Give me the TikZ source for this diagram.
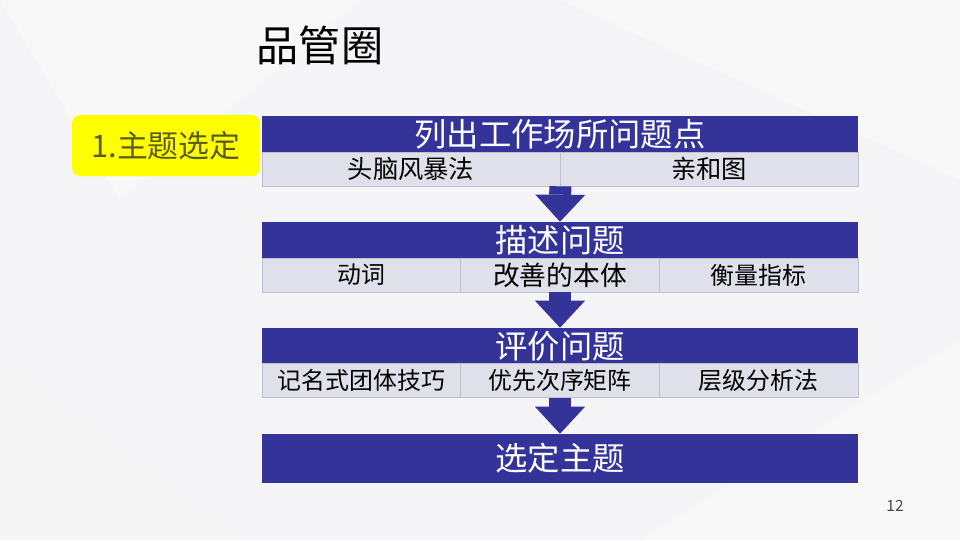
\documentclass[tikz,border=0pt]{standalone}
\usepackage{fontspec}
\setmainfont{Noto Sans CJK SC}
\usepackage{xcolor}
\definecolor{navy}{RGB}{51,51,153}
\definecolor{cellgray}{RGB}{223,224,233}
\definecolor{cellline}{RGB}{192,192,202}
\definecolor{hiyellow}{RGB}{255,255,0}
\definecolor{olive}{RGB}{92,92,22}
\definecolor{bgcol}{RGB}{245,245,247}
\definecolor{pagegray}{RGB}{70,70,70}
\usepackage{tikz}
\usetikzlibrary{
    arrows.meta,
    positioning,
    calc
}

\begin{document}
\begin{tikzpicture}[
        head/.style={rectangle, fill=navy, text=white, minimum width=14.9cm, minimum height=0.9cm, inner sep=0pt, font=\fontsize{23}{23}\selectfont},
        cell/.style={rectangle, draw=cellline, fill=cellgray, minimum width=#1, minimum height=0.85cm, inner sep=0pt, font=\fontsize{17}{17}\selectfont},
        tag/.style={rectangle, rounded corners=0.2cm, fill=hiyellow, text=olive, minimum width=4.7cm, minimum height=1.525cm, font=\fontsize{22}{22}\selectfont},
        flow/.style={-{Triangle[width=1.25cm,length=0.675cm,line width=0pt]}, line width=0.55cm, navy}
    ]
        % background
        \fill[bgcol] (0,0) rectangle (24,13.5);
        \fill[white, opacity=0.35] (0,13.5) -- (9,13.5) -- (3,8.5) -- cycle;
        \fill[white, opacity=0.35] (14,13.5) -- (24,13.5) -- (24,9) -- cycle;
        \fill[black!4, opacity=0.3] (0,0) -- (6,0) -- (0,4.5) -- cycle;
        \fill[white, opacity=0.35] (16,0) -- (24,0) -- (24,5) -- cycle;
        \useasboundingbox (0,0) rectangle (24,13.5);

        \node[font=\fontsize{30}{30}\selectfont] (title) at (8.0,12.375) {品管圈};
        \node[tag] (step1) at (4.15,9.8625) {1.主题选定};

        \node[head] (hdr1) at (14,10.15) {列出工作场所问题点};
        \node[cell=7.45cm, font=\fontsize{18}{18}\selectfont] (r1a) at (10.275,9.275) {头脑风暴法};
        \node[cell=7.45cm, font=\fontsize{18}{18}\selectfont] (r1b) at (17.725,9.275) {亲和图};

        \node[head] (hdr2) at (14,7.5) {描述问题};
        \node[cell=4.9667cm] (r2a) at (9.0333,6.625) {动词};
        \node[cell=4.9667cm, font=\fontsize{19}{19}\selectfont] (r2b) at (14,6.625) {改善的本体};
        \node[cell=4.9667cm] (r2c) at (18.9667,6.625) {衡量指标};

        \node[head] (hdr3) at (14,4.85) {评价问题};
        \node[cell=4.9667cm] (r3a) at (9.0333,3.99) {记名式团体技巧};
        \node[cell=4.9667cm] (r3b) at (14,3.99) {优先次序矩阵};
        \node[cell=4.9667cm] (r3c) at (18.9667,3.99) {层级分析法};

        \node[head, minimum height=1.225cm] (hdr4) at (14,2.0375) {选定主题};

        \draw[flow] (r1a.south east) -- (hdr2.north);
        \draw[flow] (r2b.south) -- (hdr3.north);
        \draw[flow] (r3b.south) -- (hdr4.north);

        \node[font=\fontsize{11}{11}\selectfont, text=pagegray] (page) at (22.375,0.85) {12};
    \end{tikzpicture}
\end{document}
